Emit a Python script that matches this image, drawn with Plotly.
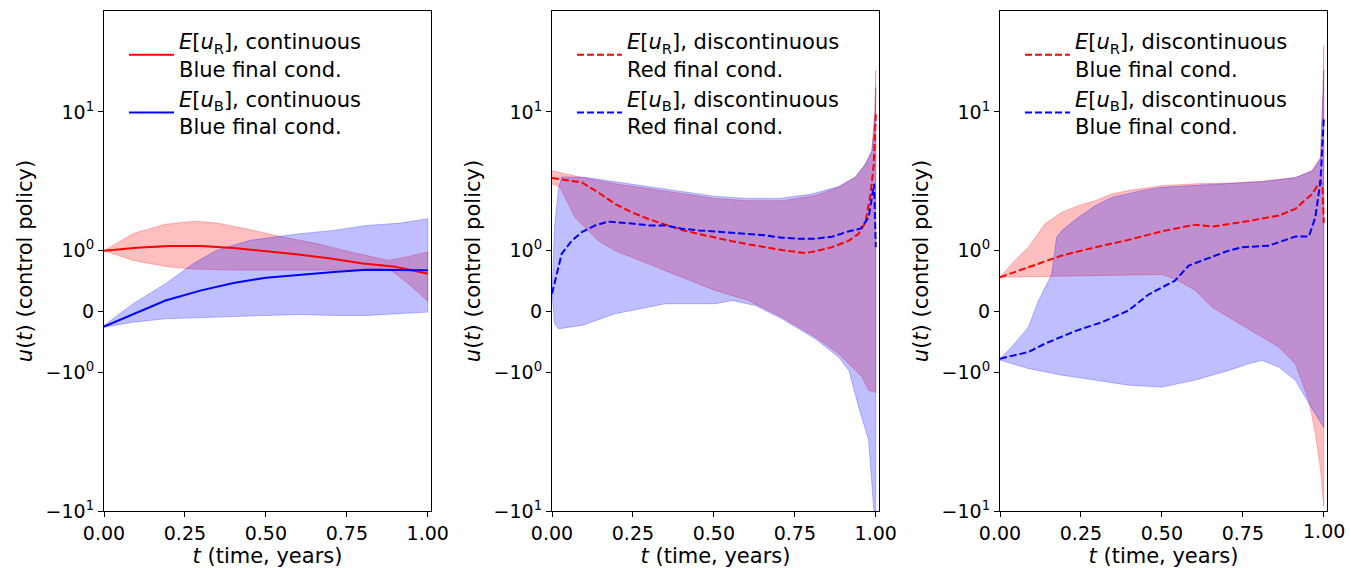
import math
import plotly.graph_objects as go

# ---------------- data (values in data units) ----------------
# Panel 1: continuous, Blue final condition
P1_R_MEAN_T = [0, 0.1, 0.2, 0.3, 0.4, 0.5, 0.6, 0.7, 0.8, 0.9, 1.0]
P1_R_MEAN_V = [1.0, 1.05, 1.08, 1.08, 1.046, 0.995, 0.936, 0.87, 0.79, 0.735, 0.62]
P1_R_UP_T = [0, 0.09, 0.19, 0.28, 0.35, 0.45, 0.54, 0.66, 0.76, 0.88, 0.945, 1.0]
P1_R_UP_V = [1.0, 1.33, 1.55, 1.63, 1.58, 1.42, 1.27, 1.12, 0.98, 0.84, 0.91, 0.98]
P1_R_LO_T = [0, 0.09, 0.19, 0.27, 0.4, 0.5, 0.6, 0.7, 0.81, 0.88, 0.935, 1.0]
P1_R_LO_V = [1.0, 0.84, 0.74, 0.70, 0.68, 0.68, 0.68, 0.68, 0.69, 0.70, 0.48, 0.17]
P1_B_MEAN_T = [0, 0.09, 0.19, 0.30, 0.40, 0.50, 0.61, 0.71, 0.81, 0.91, 1.0]
P1_B_MEAN_V = [-0.25, -0.04, 0.18, 0.347, 0.468, 0.556, 0.611, 0.649, 0.688, 0.688, 0.677]
P1_B_UP_T = [0, 0.09, 0.19, 0.276, 0.348, 0.451, 0.544, 0.606, 0.709, 0.812, 0.915, 1.0]
P1_B_UP_V = [-0.23, 0.127, 0.457, 0.787, 1.007, 1.188, 1.268, 1.326, 1.40, 1.52, 1.58, 1.70]
P1_B_LO_T = [0, 0.09, 0.19, 0.30, 0.40, 0.50, 0.61, 0.71, 0.81, 0.91, 1.0]
P1_B_LO_V = [-0.26, -0.176, -0.121, -0.105, -0.082, -0.066, -0.05, -0.066, -0.066, -0.038, -0.011]

# Panel 2: discontinuous, Red final condition
P2_R_MEAN_T = [0, 0.092, 0.143, 0.195, 0.246, 0.298, 0.350, 0.401, 0.453, 0.504, 0.556, 0.607,
               0.659, 0.710, 0.783, 0.813, 0.865, 0.917, 0.947, 0.968, 0.984, 0.994, 1.0]
P2_R_MEAN_V = [3.34, 3.10, 2.63, 2.17, 1.89, 1.69, 1.54, 1.41, 1.32, 1.24, 1.17, 1.11,
               1.06, 1.01, 0.96, 0.99, 1.06, 1.18, 1.32, 1.60, 2.56, 4.21, 9.6]
P2_R_UP_T = [0, 0.02, 0.092, 0.195, 0.298, 0.401, 0.504, 0.607, 0.710, 0.813, 0.885, 0.937,
             0.968, 0.988, 0.997, 1.0]
P2_R_UP_V = [3.77, 3.67, 3.37, 3.03, 2.79, 2.56, 2.38, 2.29, 2.29, 2.49, 2.86, 3.37,
             4.21, 5.25, 10.2, 19.8]
P2_R_LO_T = [0, 0.025, 0.071, 0.143, 0.195, 0.298, 0.401, 0.504, 0.607, 0.710, 0.813, 0.885,
             0.958, 0.978, 1.0]
P2_R_LO_V = [3.03, 2.86, 1.74, 1.18, 1.0, 0.783, 0.563, 0.345, 0.181, -0.094, -0.422, -0.695,
             -1.083, -1.35, -1.4]
P2_B_MEAN_T = [0, 0.014, 0.030, 0.061, 0.092, 0.133, 0.174, 0.246, 0.298, 0.350, 0.401, 0.453,
               0.504, 0.556, 0.607, 0.659, 0.710, 0.762, 0.813, 0.865, 0.917, 0.953, 0.978,
               0.995, 1.0]
P2_B_MEAN_V = [0.29, 0.62, 0.95, 1.18, 1.36, 1.52, 1.62, 1.57, 1.52, 1.52, 1.44, 1.40,
               1.37, 1.34, 1.32, 1.29, 1.24, 1.22, 1.22, 1.26, 1.38, 1.44, 1.74,
               3.03, 1.06]
P2_B_UP_T = [0, 0.008, 0.02, 0.03, 0.1, 0.2, 0.3, 0.4, 0.5, 0.6, 0.7, 0.8, 0.885, 0.937,
             0.968, 0.988, 0.997, 1.0]
P2_B_UP_V = [0.29, 1.5, 2.8, 3.4, 3.38, 3.12, 2.88, 2.65, 2.47, 2.38, 2.38, 2.55, 2.9, 3.4,
             4.2, 5.2, 9.0, 15.0]
P2_B_LO_T = [0, 0.008, 0.02, 0.092, 0.195, 0.35, 0.504, 0.556, 0.628, 0.71, 0.813, 0.885,
             0.917, 0.947, 0.978, 0.994, 1.0]
P2_B_LO_V = [0.29, -0.2, -0.285, -0.23, -0.038, 0.127, 0.127, 0.181, 0.098, -0.12, -0.45, -0.75,
             -0.97, -1.78, -3.09, -9.86, -10.0]

# Panel 3: discontinuous, Blue final condition
P3_R_MEAN_T = [0, 0.0876, 0.191, 0.294, 0.397, 0.50, 0.603, 0.655, 0.758, 0.861, 0.912,
               0.964, 0.990, 0.996, 1.0]
P3_R_MEAN_V = [0.563, 0.728, 0.92, 1.058, 1.196, 1.379, 1.54, 1.49, 1.62, 1.79, 2.0,
               2.56, 3.19, 2.9, 1.58]
P3_R_UP_T = [0, 0.046, 0.0876, 0.139, 0.191, 0.242, 0.294, 0.345, 0.397, 0.5, 0.603, 0.706,
             0.809, 0.912, 0.964, 0.990, 0.997, 1.0]
P3_R_UP_V = [0.563, 0.838, 1.058, 1.56, 1.89, 2.11, 2.29, 2.56, 2.71, 2.94, 3.03, 3.07,
             3.16, 3.37, 3.77, 4.7, 13.4, 30.0]
P3_R_LO_T = [0, 0.25, 0.5, 0.55, 0.603, 0.655, 0.706, 0.809, 0.861, 0.912, 0.954, 0.974,
             0.99, 1.0]
P3_R_LO_V = [0.563, 0.58, 0.608, 0.51, 0.345, 0.07, -0.094, -0.422, -0.586, -0.859, -1.6, -2.75,
             -5.0, -9.3]
P3_B_MEAN_T = [0, 0.0876, 0.139, 0.232, 0.315, 0.397, 0.459, 0.541, 0.583, 0.655, 0.706,
               0.747, 0.830, 0.912, 0.954, 0.974, 0.990, 1.0]
P3_B_MEAN_V = [-0.777, -0.668, -0.53, -0.323, -0.176, 0.016, 0.279, 0.509, 0.755, 0.892, 1.0,
               1.058, 1.085, 1.264, 1.264, 1.74, 3.19, 8.9]
P3_B_UP_T = [0, 0.036, 0.0876, 0.119, 0.150, 0.16, 0.175, 0.191, 0.242, 0.294, 0.345, 0.397,
             0.449, 0.5, 0.603, 0.706, 0.809, 0.912, 0.964, 0.990, 0.997, 1.0]
P3_B_UP_V = [-0.777, -0.586, -0.258, 0.181, 0.509, 0.62, 1.25, 1.395, 1.74, 2.11, 2.42, 2.59,
             2.74, 2.86, 2.96, 3.03, 3.14, 3.35, 3.75, 4.6, 12.0, 20.0]
P3_B_LO_T = [0, 0.0876, 0.191, 0.294, 0.397, 0.5, 0.603, 0.706, 0.768, 0.809, 0.861, 0.912,
             0.954, 0.974, 0.99, 1.0]
P3_B_LO_V = [-0.8, -0.94, -1.05, -1.14, -1.24, -1.28, -1.14, -0.97, -0.86, -0.805, -0.915, -1.14,
             -1.68, -2.0, -2.3, -2.5]

LEGEND_NAMES = [
    ("<i>E</i>[<i>u</i><sub>R</sub>], continuous<br>Blue final cond.",
     "<i>E</i>[<i>u</i><sub>B</sub>], continuous<br>Blue final cond."),
    ("<i>E</i>[<i>u</i><sub>R</sub>], discontinuous<br>Red final cond.",
     "<i>E</i>[<i>u</i><sub>B</sub>], discontinuous<br>Red final cond."),
    ("<i>E</i>[<i>u</i><sub>R</sub>], discontinuous<br>Blue final cond.",
     "<i>E</i>[<i>u</i><sub>B</sub>], discontinuous<br>Blue final cond."),
]
Y_TICK_VALUES = [-10, -1, 0, 1, 10]
Y_TICK_TEXT = ["\u221210<sup>1</sup>", "\u221210<sup>0</sup>", "0", "10<sup>0</sup>", "10<sup>1</sup>"]
X_TICK_VALUES = [0, 0.25, 0.5, 0.75, 1.0]
X_TICK_TEXT = ["0.00", "0.25", "0.50", "0.75", "1.00"]

# ---------------- symmetric-log scale (linear inside |u|<=1) ----------------
LIN = 0.438


def symlog(vals):
    out = []
    for v in vals:
        if abs(v) <= 1:
            out.append(v * LIN)
        else:
            out.append(math.copysign(LIN + math.log10(abs(v)), v))
    return out


FONT = "DejaVu Sans"
RED = "#ff0000"
BLUE = "#0000ff"
RED_FILL = "rgba(255,0,0,0.25)"
BLUE_FILL = "rgba(0,0,255,0.25)"

# page body margin removed (post_script): figure coords == page coords.
W, H = 1400, 568


def px(xp):
    return xp / W


def py(yp):
    return 1 - yp / H


x_dom = [(px(104), px(431)), (px(552), px(879)), (px(1000), px(1327))]
y_dom = (py(511), py(11))

panels = [
    dict(r=(P1_R_MEAN_T, P1_R_MEAN_V, P1_R_UP_T, P1_R_UP_V, P1_R_LO_T, P1_R_LO_V),
         b=(P1_B_MEAN_T, P1_B_MEAN_V, P1_B_UP_T, P1_B_UP_V, P1_B_LO_T, P1_B_LO_V), dash="solid"),
    dict(r=(P2_R_MEAN_T, P2_R_MEAN_V, P2_R_UP_T, P2_R_UP_V, P2_R_LO_T, P2_R_LO_V),
         b=(P2_B_MEAN_T, P2_B_MEAN_V, P2_B_UP_T, P2_B_UP_V, P2_B_LO_T, P2_B_LO_V), dash="7px,3px"),
    dict(r=(P3_R_MEAN_T, P3_R_MEAN_V, P3_R_UP_T, P3_R_UP_V, P3_R_LO_T, P3_R_LO_V),
         b=(P3_B_MEAN_T, P3_B_MEAN_V, P3_B_UP_T, P3_B_UP_V, P3_B_LO_T, P3_B_LO_V), dash="7px,3px"),
]

fig = go.Figure()
for i, p in enumerate(panels):
    suf = "" if i == 0 else str(i + 1)
    xa, ya = "x" + suf, "y" + suf
    leg = "legend" + suf
    for key, fillc in (("r", RED_FILL), ("b", BLUE_FILL)):
        mt, mv, ut, uv, lt, lv = p[key]
        fig.add_trace(go.Scatter(
            x=list(ut) + list(lt)[::-1], y=symlog(list(uv) + list(lv)[::-1]),
            mode="lines", fill="toself", fillcolor=fillc,
            line=dict(color=fillc, width=1), showlegend=False, hoverinfo="skip",
            xaxis=xa, yaxis=ya))
    for key, col, name in (("r", RED, LEGEND_NAMES[i][0]), ("b", BLUE, LEGEND_NAMES[i][1])):
        mt, mv = p[key][0], p[key][1]
        fig.add_trace(go.Scatter(
            x=mt, y=symlog(mv), mode="lines", name=name,
            line=dict(color=col, width=2, dash=p["dash"]),
            xaxis=xa, yaxis=ya, legend=leg))

layout = dict(
    width=W, height=H, margin=dict(l=0, r=0, t=0, b=0),
    paper_bgcolor="white", plot_bgcolor="white",
    font=dict(family=FONT, size=19, color="black"),
)
yr = [-(LIN + 1), LIN + 1 + 0.727]
for i in range(3):
    suf = "" if i == 0 else str(i + 1)
    # the right-most panel's last tick label is dropped by plotly; it is drawn as an annotation
    ttext = X_TICK_TEXT if i < 2 else X_TICK_TEXT[:-1] + [""]
    layout["xaxis" + suf] = dict(
        domain=list(x_dom[i]), anchor="y" + suf, range=[0, 1.01],
        tickvals=X_TICK_VALUES, ticktext=ttext,
        ticks="outside", ticklen=5, tickwidth=1, tickcolor="black",
        showline=True, linecolor="black", linewidth=1, mirror=True,
        showgrid=False, zeroline=False, automargin=False,
        tickfont=dict(size=19),
        title=dict(text="<i>t</i> (time, years)", font=dict(size=21), standoff=6),
    )
    layout["yaxis" + suf] = dict(
        domain=list(y_dom), anchor="x" + suf, range=yr,
        tickvals=symlog(Y_TICK_VALUES), ticktext=Y_TICK_TEXT,
        ticks="outside", ticklen=5, tickwidth=1, tickcolor="black",
        showline=True, linecolor="black", linewidth=1, mirror=True,
        showgrid=False, zeroline=False, automargin=False,
        tickfont=dict(size=19),
        title=dict(text="<i>u</i>(<i>t</i>) (control policy)", font=dict(size=21), standoff=7),
    )
    layout["legend" + suf] = dict(
        x=px(x_dom[i][0] * W + 20), y=py(21), xanchor="left", yanchor="top",
        bgcolor="rgba(0,0,0,0)", borderwidth=0, font=dict(size=21, family=FONT),
        itemwidth=45,
    )
layout["annotations"] = [dict(
    xref="x3", x=X_TICK_VALUES[-1], yref="paper", y=py(531),
    xanchor="center", yanchor="middle", showarrow=False,
    text=X_TICK_TEXT[-1], font=dict(size=19, family=FONT, color="black"),
)]
fig.update_layout(**layout)
fig.write_html(
    "out.html",
    config={"displayModeBar": False},
    post_script="document.body.style.margin='0';document.body.style.overflow='hidden';",
)
